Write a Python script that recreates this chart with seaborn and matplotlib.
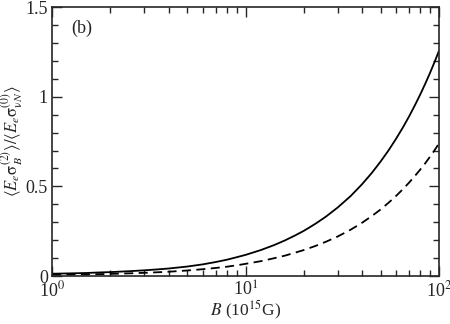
import matplotlib
matplotlib.use("Agg")
import matplotlib.pyplot as plt
import seaborn as sns
import pandas as pd
from matplotlib.ticker import MultipleLocator, LogLocator, NullFormatter

B = [1, 1.25, 1.5, 1.75, 2, 2.5, 3, 3.5, 4, 5, 6, 7, 8, 9, 10, 12, 14, 16, 18, 20,
     23, 26, 30, 35, 40, 45, 50, 55, 60, 65, 70, 75, 80, 85, 90, 95, 100]
solid = [0.013, 0.015, 0.017, 0.020, 0.022, 0.027, 0.032, 0.037, 0.042, 0.053, 0.065,
         0.078, 0.091, 0.105, 0.118, 0.145, 0.172, 0.199, 0.226, 0.252, 0.292, 0.331,
         0.383, 0.447, 0.512, 0.576, 0.640, 0.703, 0.766, 0.828, 0.890, 0.952, 1.013,
         1.074, 1.135, 1.196, 1.257]
dashed = [0.007, 0.008, 0.009, 0.0105, 0.012, 0.015, 0.018, 0.021, 0.024, 0.031, 0.038,
          0.045, 0.052, 0.060, 0.068, 0.083, 0.099, 0.114, 0.130, 0.145, 0.168, 0.191,
          0.221, 0.259, 0.297, 0.335, 0.372, 0.410, 0.447, 0.484, 0.521, 0.558, 0.594,
          0.630, 0.667, 0.703, 0.740]

sns.set_style("ticks")
plt.rcParams['font.family'] = ['Liberation Serif', 'DejaVu Serif']
plt.rcParams['mathtext.fontset'] = 'stix'

fig = plt.figure(figsize=(4.5, 3.24), dpi=100)
ax = fig.add_axes([0.1156, 0.148, 0.86, 0.83])

df_s = pd.DataFrame({"B": B, "v": solid})
df_d = pd.DataFrame({"B": B, "v": dashed})
sns.lineplot(data=df_s, x="B", y="v", ax=ax, color="black", lw=1.3)
sns.lineplot(data=df_d, x="B", y="v", ax=ax, color="black", lw=1.3,
             linestyle=(0, (5, 3)))

ax.set_xscale("log")
ax.set_xlim(1, 100)
ax.set_ylim(0, 1.5)
ax.set_yticks([0, 0.5, 1, 1.5])
ax.set_yticklabels(["0", "0.5", "1", "1.5"])
ax.yaxis.set_minor_locator(MultipleLocator(0.1))
ax.xaxis.set_minor_locator(LogLocator(base=10, subs=range(2, 10)))
ax.xaxis.set_minor_formatter(NullFormatter())
ax.set_xticks([1, 10, 100])
ax.set_xticklabels([r"10$^0$", r"10$^1$", r"10$^2$"])

ax.tick_params(which="both", direction="in", top=True, right=True, labelsize=13, pad=3)
ax.tick_params(which="major", length=7, width=1)
ax.tick_params(which="minor", length=4, width=1)
for sp in ax.spines.values():
    sp.set_linewidth(1.2)

ax.set_xlabel(r"$B$ (10$^{15}$G)", fontsize=12.5, labelpad=-1)
ax.set_ylabel(r"$\langle E_e\mathrm{\sigma}_B^{(2)}\rangle/\langle E_e\mathrm{\sigma}_{\mathrm{\nu}N}^{(0)}\rangle$",
              fontsize=12)
ax.yaxis.set_label_coords(-0.07, 0.5)
ax.text(0.05, 0.92, "(b)", transform=ax.transAxes, fontsize=13, va="center")

fig.savefig("out.png", dpi=100)
